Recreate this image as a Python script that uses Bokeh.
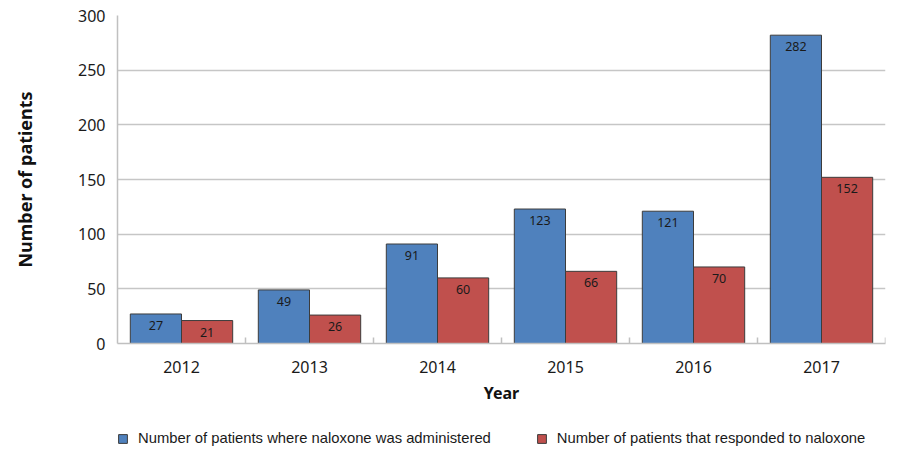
from bokeh.plotting import figure
from bokeh.layouts import column
from bokeh.models import ColumnDataSource, FactorRange, Range1d, Legend, LegendItem, FixedTicker
from bokeh.transform import dodge
from bokeh.core.properties import value
from bokeh.embed import file_html
from bokeh.resources import INLINE

years = ["2012", "2013", "2014", "2015", "2016", "2017"]
administered = [27, 49, 91, 123, 121, 282]
responded = [21, 26, 60, 66, 70, 152]
y_ticks = [0, 50, 100, 150, 200, 250, 300]
series_names = ["Number of patients where naloxone was administered",
                "Number of patients that responded to naloxone"]

blue = "#4F81BD"
red = "#C0504D"
edge = "#3c3c3c"

src = ColumnDataSource(dict(
    years=years,
    administered=administered,
    responded=responded,
    adm_txt=[str(v) for v in administered],
    res_txt=[str(v) for v in responded],
    tick0=[0] * len(years),
    tick1=[5.5] * len(years),
))

FONT = "Liberation Sans"
TFONT = "Noto Sans"

p = figure(width=900, height=410, output_backend="svg", toolbar_location=None,
           x_range=FactorRange(*years, range_padding=0), y_range=Range1d(0, 300),
           min_border_left=117, min_border_right=15, min_border_top=15, min_border_bottom=67)
p.outline_line_color = None
p.background_fill_color = "white"

r1 = p.vbar(x=dodge("years", -0.2, range=p.x_range), top="administered", width=0.4, source=src,
            fill_color=blue, line_color=edge, line_width=1)
r2 = p.vbar(x=dodge("years", 0.2, range=p.x_range), top="responded", width=0.4, source=src,
            fill_color=red, line_color=edge, line_width=1)

p.text(x=dodge("years", -0.2, range=p.x_range), y="administered", text="adm_txt", source=src,
       text_align="center", text_baseline="top", y_offset=7, text_font_size="12.5px",
       text_color="#1a1a1a", text_font=value(TFONT))
p.text(x=dodge("years", 0.2, range=p.x_range), y="responded", text="res_txt", source=src,
       text_align="center", text_baseline="top", y_offset=7, text_font_size="12.5px",
       text_color="#1a1a1a", text_font=value(TFONT))

# category boundary ticks on the x axis
p.segment(x0=dodge("years", 0.5, range=p.x_range), y0="tick0",
          x1=dodge("years", 0.5, range=p.x_range), y1="tick1", source=src,
          line_color="#c0c0c0", line_width=1.5)

p.xgrid.grid_line_color = None
p.ygrid.grid_line_color = "#c6c6c6"
p.ygrid.grid_line_width = 1.5
p.yaxis.ticker = FixedTicker(ticks=y_ticks)

for ax in (p.xaxis[0], p.yaxis[0]):
    ax.axis_line_color = "#c0c0c0"
    ax.axis_line_width = 1.5
    ax.major_tick_line_color = None
    ax.minor_tick_line_color = None
    ax.major_tick_out = 0
    ax.major_tick_in = 0
    ax.major_label_text_font = TFONT
    ax.major_label_text_font_size = "16px"
    ax.major_label_text_color = "#1a1a1a"
    ax.axis_label_text_font = TFONT
    ax.axis_label_text_font_style = "bold"
    ax.axis_label_text_color = "#111111"

p.yaxis.axis_label = "Number of patients"
p.yaxis.axis_label_text_font_size = "18px"
p.yaxis.major_label_standoff = 12
p.yaxis.axis_label_standoff = 38

p.xaxis.axis_label = "Year"
p.xaxis.axis_label_text_font_size = "16px"
p.xaxis.major_label_standoff = 17
p.xaxis.axis_label_standoff = 6

# legend strip below the chart (its frame is aligned with the chart frame)
pl = figure(width=900, height=49, output_backend="svg", toolbar_location=None,
            x_range=Range1d(0, 1), y_range=Range1d(0, 1),
            x_axis_location=None, y_axis_location=None,
            min_border=0)
pl.outline_line_color = None
pl.xgrid.grid_line_color = None
pl.ygrid.grid_line_color = None
offscreen = ColumnDataSource(dict(x=[-10], top=[-10]))
l1 = pl.vbar(x="x", top="top", width=0.1, source=offscreen, fill_color=blue, line_color=edge)
l2 = pl.vbar(x="x", top="top", width=0.1, source=offscreen, fill_color=red, line_color=edge)

legend = Legend(items=[LegendItem(label=series_names[0], renderers=[l1]),
                       LegendItem(label=series_names[1], renderers=[l2])],
                orientation="horizontal", location=(0, 13),
                glyph_width=11, glyph_height=11, label_standoff=10, spacing=45,
                label_text_font=FONT, label_text_font_size="14.8px", label_text_color="#1a1a1a",
                padding=0, margin=0, border_line_color=None, background_fill_alpha=0)
pl.add_layout(legend, "center")

layout = column(p, pl, spacing=0)
open("out.html", "w").write(file_html(layout, INLINE))
